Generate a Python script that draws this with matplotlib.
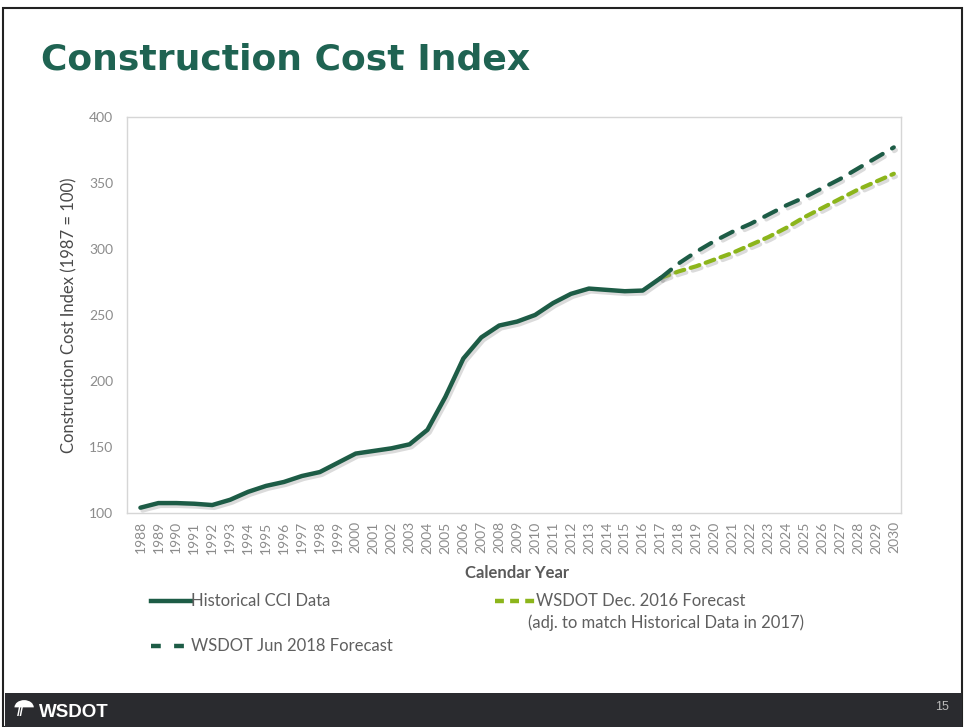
import numpy as np
import matplotlib
matplotlib.use('Agg')
import matplotlib.pyplot as plt
import matplotlib.patheffects as pe
from matplotlib.lines import Line2D
from matplotlib.patches import Rectangle, Wedge

# historical construction cost index (1987 = 100)
hist_years = list(range(1988, 2018))
hist_cci = [104, 107.5, 107.5, 107, 106, 110, 116, 120.5, 123.5, 128,
            131, 138, 145, 147, 149, 152, 163, 188, 217, 233,
            242, 245, 250, 259, 266, 270, 269, 268, 268.5, 278]

# forecasts, both starting from 2017
fc_years = list(range(2017, 2031))
dec2016 = [278, 283, 287, 292, 297, 303, 309, 316, 324, 331, 338, 345, 351, 357]
jun2018 = [278, 289, 298, 306, 313, 319, 326, 333, 339, 346, 353, 361, 369, 377]

yticks = [100, 150, 200, 250, 300, 350, 400]
xticks = list(range(1988, 2031))

dkgreen = '#1d5c46'
ltgreen = '#8cb51b'
grey = '#8c8c8c'
txt = '#5f5f5f'
font = ['Lato', 'DejaVu Sans']

fig = plt.figure(figsize=(9.65, 7.27), dpi=100)
fig.patch.set_facecolor('white')

# slide frame + footer bar
fig.add_artist(Rectangle((0.003, 0.0), 0.994, 0.989, transform=fig.transFigure,
                         fill=False, edgecolor='#222222', lw=1.5))
fig.add_artist(Rectangle((0.005, 0.0), 0.992, 0.047, transform=fig.transFigure,
                         facecolor='#2a2b2f', edgecolor='none'))
fig.add_artist(Wedge((0.025, 0.027), 0.010, 0, 180, transform=fig.transFigure,
                     facecolor='white', edgecolor='none'))
fig.text(0.017, 0.019, '//', color='white', fontsize=9, fontweight='bold',
         family='Liberation Sans', va='center')
fig.text(0.040, 0.014, 'WSDOT', color='white', fontsize=13.5, fontweight='bold',
         family='Liberation Sans', va='baseline')
fig.text(0.983, 0.027, '15', color='#bbbbbb', fontsize=9, ha='right', va='center',
         family='Liberation Sans')

fig.text(0.043, 0.918, 'Construction Cost Index', color='#1f6352', fontsize=26,
         fontweight='bold', family='DejaVu Sans', va='center')

ax = fig.add_axes([0.1316, 0.2944, 0.8021, 0.5447])
shadow = [pe.SimpleLineShadow(offset=(1.5, -2), shadow_color='#9a9a9a', alpha=0.35),
          pe.Normal()]

ax.plot(fc_years, dec2016, color=ltgreen, lw=3, dashes=(2.2, 1.6),
        solid_capstyle='round', dash_capstyle='round', path_effects=shadow, zorder=3)
ax.plot(fc_years, jun2018, color=dkgreen, lw=3, dashes=(3.2, 2.6),
        dash_capstyle='round', path_effects=shadow, zorder=3)
ax.plot(hist_years, hist_cci, color=dkgreen, lw=3.2, solid_capstyle='round',
        solid_joinstyle='round', path_effects=shadow, zorder=4)

ax.set_xlim(1987.25, 2030.4)
ax.set_ylim(100, 400)
ax.set_yticks(yticks)
ax.set_xticks(xticks)
ax.set_xticklabels([str(y) for y in xticks], rotation=90)
ax.tick_params(axis='both', length=0, labelsize=10, labelcolor=grey)
ax.tick_params(axis='x', pad=6)
ax.tick_params(axis='y', pad=10)
for lab in ax.get_xticklabels() + ax.get_yticklabels():
    lab.set_family(font)
for s in ax.spines.values():
    s.set_color('#d6d6d6')
    s.set_linewidth(1)

ax.set_ylabel('Construction Cost Index (1987 = 100)', color='#4a4a4a',
              fontsize=12, family=font, labelpad=8)
fig.text(0.536, 0.212, 'Calendar Year', color='#5a5a5a', fontsize=12,
         fontweight='bold', family=font, ha='center', va='center')

# legend drawn by hand to match the slide layout
def legend_entry(x0, y, color, dashes, label):
    ln = Line2D([x0, x0 + 0.042], [y, y], transform=fig.transFigure,
                color=color, lw=3.2)
    if dashes is not None:
        ln.set_dashes(dashes)
    fig.add_artist(ln)
    fig.text(x0 + 0.042, y, label, color=txt, fontsize=12, family=font,
             va='center', ha='left')

legend_entry(0.156, 0.174, dkgreen, None, 'Historical CCI Data')
legend_entry(0.156, 0.111, dkgreen, (2.2, 3.0), 'WSDOT Jun 2018 Forecast')
legend_entry(0.513, 0.174, ltgreen, (2.0, 1.4), 'WSDOT Dec. 2016 Forecast')
fig.text(0.547, 0.143, '(adj. to match Historical Data in 2017)', color=txt,
         fontsize=12, family=font, va='center', ha='left')

fig.savefig('out.png', dpi=100)
